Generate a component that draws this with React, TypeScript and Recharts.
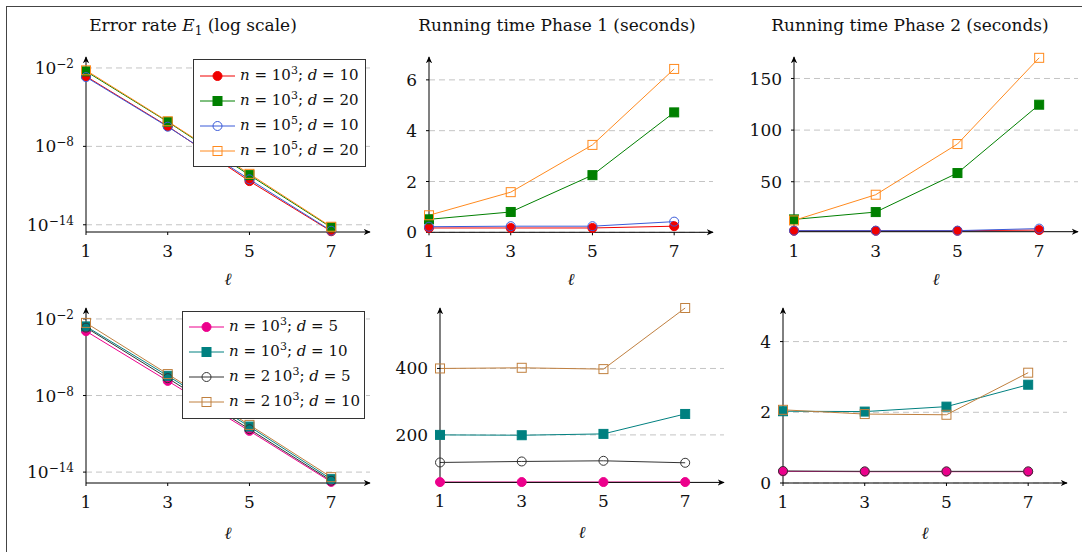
import React from 'react';
import { LineChart, Line, XAxis, YAxis, CartesianGrid, Legend } from 'recharts';

const FONT = '"DejaVu Serif", serif';

const ell = [1, 3, 5, 7];
const xTicks = [1, 3, 5, 7];

// top row: n = 10^3 / 10^5, d = 10 / 20
const errTopN3D10 = [2.3e-3, 3.5e-7, 2.2e-11, 3.2e-15];
const errTopN3D20 = [5.5e-3, 7.6e-7, 6.3e-11, 6.3e-15];
const errTopN5D10 = [2.0e-3, 3.2e-7, 3.0e-11, 3.5e-15];
const errTopN5D20 = [6.6e-3, 8.3e-7, 7.9e-11, 7.1e-15];

const ph1TopN3D10 = [0.17, 0.17, 0.17, 0.24];
const ph1TopN3D20 = [0.51, 0.8, 2.25, 4.72];
const ph1TopN5D10 = [0.22, 0.24, 0.24, 0.42];
const ph1TopN5D20 = [0.67, 1.58, 3.44, 6.43];

const ph2TopN3D10 = [2.5, 2.5, 2.5, 3.2];
const ph2TopN3D20 = [13.5, 20.6, 58.4, 124.6];
const ph2TopN5D10 = [2.6, 2.6, 2.6, 4.6];
const ph2TopN5D20 = [12.5, 37.4, 86.5, 170];

// bottom row: n = 10^3 / 2 10^3, d = 5 / 10
const errBotN1D5 = [1.1e-3, 1.4e-7, 1.7e-11, 1.7e-15];
const errBotN1D10 = [2.6e-3, 3.5e-7, 3.7e-11, 2.8e-15];
const errBotN2D5 = [2.1e-3, 2.3e-7, 2.3e-11, 2.1e-15];
const errBotN2D10 = [4.9e-3, 4.8e-7, 5.0e-11, 4.0e-15];

const ph1BotN1D5 = [58, 58, 58, 58];
const ph1BotN1D10 = [200, 199, 203, 263];
const ph1BotN2D5 = [117, 120, 122, 116];
const ph1BotN2D10 = [400, 402, 398, 582];

const ph2BotN1D5 = [0.33, 0.32, 0.32, 0.32];
const ph2BotN1D10 = [2.03, 2.02, 2.16, 2.78];
const ph2BotN2D5 = [0.34, 0.33, 0.33, 0.33];
const ph2BotN2D10 = [2.07, 1.95, 1.93, 3.12];

const logTicks = [1e-14, 1e-8, 1e-2];
const ph1TopTicks = [0, 2, 4, 6];
const ph2TopTicks = [50, 100, 150];
const ph1BotTicks = [200, 400];
const ph2BotTicks = [0, 2, 4];

const topSeries = [
  { key: 'a', color: '#f00000', shape: 'circle', nPre: '', nExp: '3', d: '10' },
  { key: 'b', color: '#008000', shape: 'square', nPre: '', nExp: '3', d: '20' },
  { key: 'c', color: '#3a5ad8', shape: 'ocircle', nPre: '', nExp: '5', d: '10' },
  { key: 'e', color: '#ff8a1e', shape: 'osquare', nPre: '', nExp: '5', d: '20' },
];
const botSeries = [
  { key: 'a', color: '#ec008c', shape: 'circle', nPre: '', nExp: '3', d: '5' },
  { key: 'b', color: '#008080', shape: 'square', nPre: '', nExp: '3', d: '10' },
  { key: 'c', color: '#333333', shape: 'ocircle', nPre: '2\u2009', nExp: '3', d: '5' },
  { key: 'e', color: '#c0803f', shape: 'osquare', nPre: '2\u2009', nExp: '3', d: '10' },
];

const rows = (a: number[], b: number[], c: number[], e: number[]) =>
  ell.map((l, i) => ({ ell: l, a: a[i], b: b[i], c: c[i], e: e[i] }));

// pgfplots marks: filled *, square*, and outline-only o, square
const Mark = ({ shape, color, cx, cy }: any) => {
  const r = 4.5;
  if (shape === 'circle') return <circle cx={cx} cy={cy} r={r} fill={color} stroke={color} />;
  if (shape === 'ocircle') return <circle cx={cx} cy={cy} r={r} fill="none" stroke={color} />;
  const fill = shape === 'square' ? color : 'none';
  return <rect x={cx - r} y={cy - r} width={r * 2} height={r * 2} fill={fill} stroke={color} />;
};

const SeriesLabel = ({ s }: any) => (
  <span>
    <i>n</i> = {s.nPre}10<span style={{ fontSize: 11, position: 'relative', top: -6 }}>{s.nExp}</span>; <i>d</i> = {s.d}
  </span>
);

const LegendBox = ({ series, width }: any) => (
  <div
    style={{
      width,
      boxSizing: 'border-box',
      border: '1px solid #333',
      background: '#fff',
      padding: '3px 6px',
      fontFamily: FONT,
      fontSize: 15,
      color: '#111',
    }}
  >
    {series.map((s: any) => (
      <div key={s.key} style={{ display: 'flex', alignItems: 'center', height: 25, lineHeight: '25px' }}>
        <svg width={35} height={12} style={{ flex: 'none' }}>
          <line x1={0} y1={6} x2={35} y2={6} stroke={s.color} />
          <Mark shape={s.shape} color={s.color} cx={17.5} cy={6} />
        </svg>
        <span style={{ marginLeft: 5, whiteSpace: 'nowrap' }}>
          <SeriesLabel s={s} />
        </span>
      </div>
    ))}
  </div>
);

const LogTick = (props: any) => {
  const { x, y, payload } = props;
  const exp = Math.round(Math.log10(payload.value));
  return (
    <text x={x} y={y} textAnchor="end" fontFamily={FONT} fill="#111">
      <tspan fontSize={17} dy={6}>10</tspan>
      <tspan fontSize={12} dy={-6}>{'\u2212' + Math.abs(exp)}</tspan>
    </text>
  );
};

const ML = 10;
const YW = 60;
const MT = 10;
const MR = 12;
const XH = 60;
const MB = 4;

const Panel = ({ box, yDomain, yTicks, log, data, series, legend, ellOffset }: any) => {
  const [x0, y0, x1, y1] = box;
  const w = x1 - x0 + ML + YW + MR;
  const h = y1 - y0 + MT + XH + MB;
  const left = x0 - ML - YW;
  const top = y0 - MT;
  return (
    <div style={{ position: 'absolute', left, top }}>
      <LineChart width={w} height={h} data={data} margin={{ top: MT, right: MR, left: ML, bottom: MB }}>
        <CartesianGrid
          vertical={false}
          horizontalValues={yTicks}
          syncWithTicks
          stroke="#c4c4c4"
          strokeDasharray="6 4"
        />
        <XAxis
          dataKey="ell"
          type="number"
          domain={[1, 7.95]}
          ticks={xTicks}
          interval={0}
          height={XH}
          axisLine={{ stroke: '#000', markerEnd: 'url(#axArrow)' }}
          tickLine={{ stroke: '#000' }}
          tickSize={3}
          tickMargin={10}
          tick={{ fill: '#111', fontSize: 17, fontFamily: FONT }}
          label={{
            value: '\u2113',
            position: 'insideBottom',
            offset: ellOffset,
            fill: '#111',
            fontSize: 17,
            fontStyle: 'italic',
            fontFamily: FONT,
          }}
        />
        <YAxis
          type="number"
          scale={log ? 'log' : 'linear'}
          domain={yDomain}
          ticks={yTicks}
          interval={0}
          width={YW}
          axisLine={{ stroke: '#000', markerStart: 'url(#axArrow)' }}
          tickLine={{ stroke: '#000' }}
          tickSize={3}
          tickMargin={9}
          tick={log ? <LogTick /> : { fill: '#111', fontSize: 17, fontFamily: FONT }}
        />
        {series.map((s: any) => (
          <Line
            key={s.key}
            type="linear"
            dataKey={s.key}
            stroke={s.color}
            strokeWidth={1}
            isAnimationActive={false}
            activeDot={false}
            dot={(p: any) => <Mark key={p.index} shape={s.shape} color={s.color} cx={p.cx} cy={p.cy} />}
          />
        ))}
        {legend && (
          <Legend
            layout="vertical"
            align="center"
            verticalAlign="middle"
            wrapperStyle={{ left: legend.x - left, top: legend.y - top, width: 'auto', height: 'auto' }}
            content={() => <LegendBox series={series} width={legend.w} />}
          />
        )}
      </LineChart>
    </div>
  );
};

const titles = [
  { x: 193, parts: 'err' },
  { x: 557, parts: 'Running time Phase 1 (seconds)' },
  { x: 910, parts: 'Running time Phase 2 (seconds)' },
];

export default function App() {
  return (
    <div style={{ position: 'absolute', left: 0, top: 0, width: 1082, height: 552, background: '#fff', overflow: 'hidden' }}>
      <svg width={0} height={0} style={{ position: 'absolute' }}>
        <defs>
          <marker
            id="axArrow"
            viewBox="0 0 10 10"
            refX={9}
            refY={5}
            markerWidth={7}
            markerHeight={7}
            markerUnits="userSpaceOnUse"
            orient="auto-start-reverse"
          >
            <path d="M0,0.5 L10,5 L0,9.5 L3,5 z" fill="#000" />
          </marker>
        </defs>
      </svg>
      <div
        style={{
          position: 'absolute',
          left: 6,
          top: 6,
          width: 1076,
          height: 546,
          borderLeft: '1px solid #444',
          borderTop: '1px solid #444',
        }}
      />
      <svg width={1082} height={60} style={{ position: 'absolute', left: 0, top: 0 }}>
        {titles.map((t) =>
          t.parts === 'err' ? (
            <text key={t.x} x={t.x} y={30.5} textAnchor="middle" fontFamily={FONT} fontSize={17} fill="#111">
              Error rate <tspan fontStyle="italic">E</tspan>
              <tspan fontSize={12} dy={4}>1</tspan>
              <tspan dy={-4}> (log scale)</tspan>
            </text>
          ) : (
            <text key={t.x} x={t.x} y={30.5} textAnchor="middle" fontFamily={FONT} fontSize={17} fill="#111">
              {t.parts}
            </text>
          )
        )}
      </svg>

      <Panel
        box={[86, 57, 370, 232]}
        log
        yDomain={[2.8e-15, 6.9e-2]}
        yTicks={logTicks}
        data={rows(errTopN3D10, errTopN3D20, errTopN5D10, errTopN5D20)}
        series={topSeries}
        legend={{ x: 193, y: 59, w: 173 }}
        ellOffset={7}
      />
      <Panel
        box={[429, 57, 713, 232.3]}
        yDomain={[0, 6.9]}
        yTicks={ph1TopTicks}
        data={rows(ph1TopN3D10, ph1TopN3D20, ph1TopN5D10, ph1TopN5D20)}
        series={topSeries}
        ellOffset={7}
      />
      <Panel
        box={[794, 57, 1078, 231.7]}
        yDomain={[1.6, 170.8]}
        yTicks={ph2TopTicks}
        data={rows(ph2TopN3D10, ph2TopN3D20, ph2TopN5D10, ph2TopN5D20)}
        series={topSeries}
        ellOffset={7}
      />
      <Panel
        box={[86, 308.3, 370, 483.3]}
        log
        yDomain={[1.4e-15, 7.2e-2]}
        yTicks={logTicks}
        data={rows(errBotN1D5, errBotN1D10, errBotN2D5, errBotN2D10)}
        series={botSeries}
        legend={{ x: 182, y: 311, w: 183 }}
        ellOffset={4}
      />
      <Panel
        box={[440, 308.3, 724, 482.7]}
        yDomain={[57, 582]}
        yTicks={ph1BotTicks}
        data={rows(ph1BotN1D5, ph1BotN1D10, ph1BotN2D5, ph1BotN2D10)}
        series={botSeries}
        ellOffset={4}
      />
      <Panel
        box={[783, 308.3, 1067, 483.3]}
        yDomain={[0, 4.95]}
        yTicks={ph2BotTicks}
        data={rows(ph2BotN1D5, ph2BotN1D10, ph2BotN2D5, ph2BotN2D10)}
        series={botSeries}
        ellOffset={4}
      />
    </div>
  );
}
